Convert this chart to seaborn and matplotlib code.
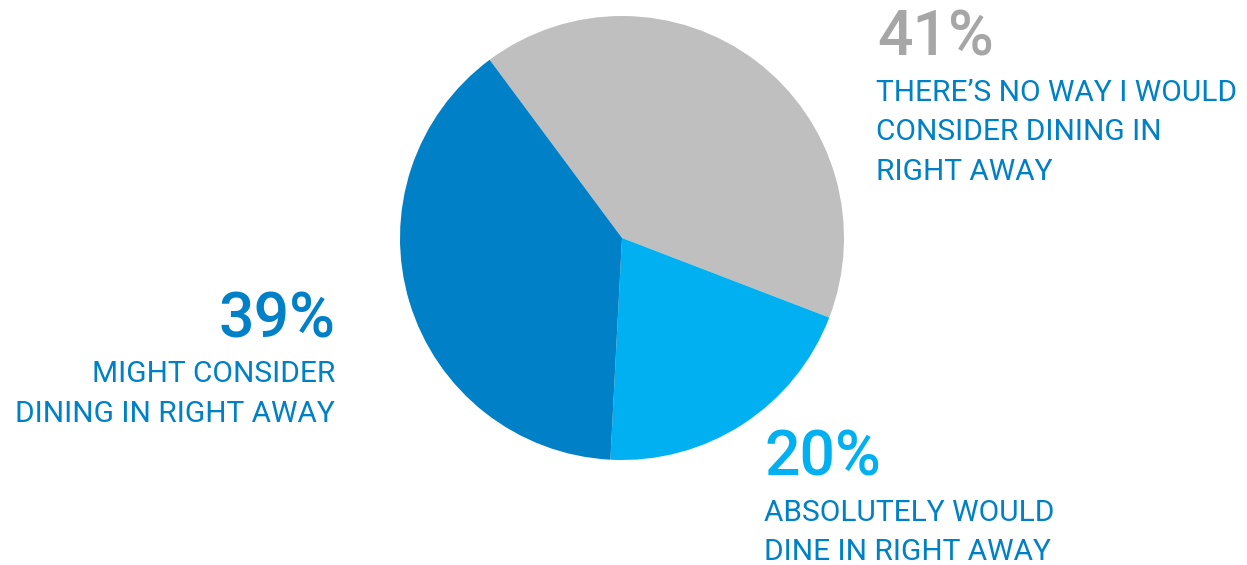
import matplotlib
matplotlib.use("Agg")
import matplotlib.pyplot as plt
import seaborn as sns

categories = ["THERE\u2019S NO WAY I WOULD\nCONSIDER DINING IN\nRIGHT AWAY",
              "ABSOLUTELY WOULD\nDINE IN RIGHT AWAY",
              "MIGHT CONSIDER\nDINING IN RIGHT AWAY"]
values = [41, 20, 39]
slice_colors = ["#BFBFBF", "#00B0F0", "#0080C6"]
pct_colors = ["#A6A6A6", "#00B0F0", "#0080C6"]
label_color = "#0080C6"

sns.set_theme(style="white")
plt.rcParams['font.family'] = ['Roboto', 'DejaVu Sans']

W, H = 1247, 565
fig = plt.figure(figsize=(W / 100, H / 100), dpi=100)
fig.patch.set_facecolor("white")

cx, cy, r = 622, 238, 222
ax = fig.add_axes([(cx - r) / W, (H - cy - r) / H, 2 * r / W, 2 * r / H])
ax.pie(values, colors=slice_colors, startangle=126.6, counterclock=False,
       radius=1, wedgeprops=dict(linewidth=0))
ax.set_xlim(-1, 1)
ax.set_ylim(-1, 1)
ax.set_aspect("equal")
ax.axis("off")

def fx(x):
    return x / W

def fy(y):
    return 1 - y / H

pct_size = 45
lab_size = 21.5
line_gap = 39.5

def label_lines(text):
    # tighter word spacing, as in the reference
    return [ln.replace(" ", "\u2009\u200a") for ln in text.split("\n")]

# 41%
fig.text(fx(877), fy(55), f"{values[0]}%", color=pct_colors[0], fontsize=pct_size,
         ha="left", va="baseline", fontweight="medium")
for i, line in enumerate(categories[0].split("\n")):
    fig.text(fx(876), fy(101 + i * line_gap), line, color=label_color, fontsize=lab_size,
             ha="left", va="baseline")

# 20%
fig.text(fx(764), fy(475), f"{values[1]}%", color=pct_colors[1], fontsize=pct_size,
         ha="left", va="baseline", fontweight="medium")
for i, line in enumerate(categories[1].split("\n")):
    fig.text(fx(764), fy(521 + i * line_gap), line, color=label_color, fontsize=lab_size,
             ha="left", va="baseline")

# 39%
fig.text(fx(335), fy(337), f"{values[2]}%", color=pct_colors[2], fontsize=pct_size,
         ha="right", va="baseline", fontweight="medium")
for i, line in enumerate(categories[2].split("\n")):
    fig.text(fx(335), fy(382 + i * line_gap), line, color=label_color, fontsize=lab_size,
             ha="right", va="baseline")

fig.savefig("out.png", dpi=100, facecolor="white")
